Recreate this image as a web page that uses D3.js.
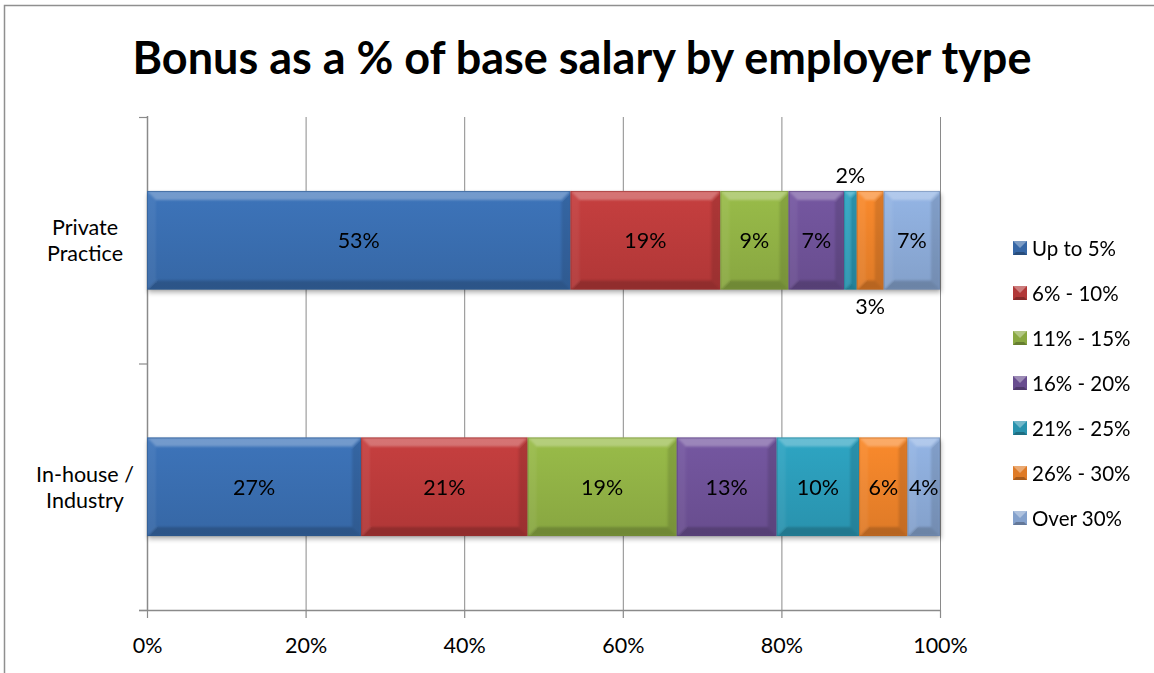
<!DOCTYPE html>
<html>
<head>
<meta charset="utf-8">
<script src="https://cdn.jsdelivr.net/npm/d3@7"></script>
<style>
  html, body { margin: 0; padding: 0; background: #fff; }
  svg { display: block; font-family: Lato, "Open Sans", sans-serif; }
</style>
</head>
<body>
<svg id="chart" width="1154" height="673"></svg>
<script>
// ---- data ----
const categories = ["Private Practice", "In-house / Industry"];
const categoryLines = [["Private", "Practice"], ["In-house /", "Industry"]];
const seriesNames = ["Up to 5%", "6% - 10%", "11% - 15%", "16% - 20%", "21% - 25%", "26% - 30%", "Over 30%"];
const privatePractice = [0.534, 0.189, 0.086, 0.070, 0.016, 0.034, 0.071];
const inHouseIndustry = [0.270, 0.210, 0.188, 0.126, 0.104, 0.061, 0.041];
const xTicks = [0, 0.2, 0.4, 0.6, 0.8, 1.0];
const titleText = "Bonus as a % of base salary by employer type";
const colors = ["#3A6FB2", "#BE3C3C", "#93B446", "#70539A", "#2C9EBB", "#F0842A", "#8EADDB"];

const values = [privatePractice, inHouseIndustry];

const svg = d3.select("#chart");
const W = 1154, H = 673;

// frame
svg.append("path").attr("d", `M4.5,${H} L4.5,5.5 L${W},5.5`)
  .attr("fill", "none").attr("stroke", "#8f8f8f").attr("stroke-width", 1.5);

// title
const title = svg.append("text").attr("x", 582).attr("y", 74)
  .attr("text-anchor", "middle").attr("font-weight", 700).attr("font-size", 40)
  .attr("fill", "#000").text(titleText);
{
  const len = title.node().getComputedTextLength();
  title.attr("font-size", 40 * 899 / len);
}

const x = d3.scaleLinear().domain([0, 1]).range([147, 940]);
const y = d3.scaleBand().domain(categories).range([117, 610]).paddingInner(0.6).paddingOuter(0.3);
const yEdges = d3.scaleLinear().domain([0, categories.length]).range([117, 610]);

const defs = svg.append("defs");
const f = defs.append("filter").attr("id", "shadow").attr("x", "-5%").attr("y", "-20%").attr("width", "110%").attr("height", "150%");
f.append("feGaussianBlur").attr("stdDeviation", 2.5);
const fb = defs.append("filter").attr("id", "soft").attr("x", "-10%").attr("y", "-10%").attr("width", "120%").attr("height", "120%");
fb.append("feGaussianBlur").attr("stdDeviation", 0.8);

colors.forEach((c, i) => {
  const g = defs.append("linearGradient").attr("id", "grad" + i).attr("x1", 0).attr("y1", 0).attr("x2", 0).attr("y2", 1);
  g.append("stop").attr("offset", "0%").attr("stop-color", d3.color(c).brighter(0.12));
  g.append("stop").attr("offset", "100%").attr("stop-color", d3.color(c).darker(0.22));
});

// gridlines
const grid = svg.append("g");
grid.selectAll("line").data(xTicks.slice(1)).join("line")
  .attr("x1", d => x(d) + 0.5).attr("x2", d => x(d) + 0.5)
  .attr("y1", 117).attr("y2", 610)
  .attr("stroke", "#8a8a8a").attr("stroke-width", 1);

// bottom axis
const xAxis = d3.axisBottom(x).tickValues(xTicks).tickFormat(d3.format(".0%")).tickSize(8).tickPadding(20);
const gx = svg.append("g").attr("transform", "translate(0,610)").call(xAxis);
gx.select(".domain").remove();
gx.selectAll(".tick line").attr("stroke", "#8a8a8a").attr("stroke-width", 1.2);
gx.selectAll(".tick text").attr("font-size", 21.5).attr("fill", "#000").attr("font-family", "Lato, sans-serif");
svg.append("line").attr("x1", 139).attr("x2", 941).attr("y1", 610.5).attr("y2", 610.5)
  .attr("stroke", "#8a8a8a").attr("stroke-width", 1.5);

// left axis
svg.append("line").attr("x1", 147.5).attr("x2", 147.5).attr("y1", 116).attr("y2", 611)
  .attr("stroke", "#8a8a8a").attr("stroke-width", 1.5);
svg.append("g").selectAll("line").data(d3.range(categories.length + 1)).join("line")
  .attr("x1", 139).attr("x2", 147).attr("y1", d => yEdges(d) + 0.5).attr("y2", d => yEdges(d) + 0.5)
  .attr("stroke", "#8a8a8a").attr("stroke-width", 1.2);

// category labels
categories.forEach((cat, ci) => {
  const cy = y(cat) + y.bandwidth() / 2;
  const t = svg.append("text").attr("text-anchor", "middle").attr("font-size", 21.5).attr("fill", "#000");
  categoryLines[ci].forEach((ln, li) => {
    t.append("tspan").attr("x", 85).attr("y", cy - 5 + li * 26).text(ln);
  });
});

// bars
const fmt = d3.format(".0%");
const bars = svg.append("g");
const labelsG = svg.append("g");
categories.forEach((cat, ci) => {
  const vals = values[ci];
  const by = y(cat), bh = y.bandwidth();
  let cum = 0;
  const segs = vals.map((v, i) => { const s = { v, i, x0: x(cum), x1: x(cum + v) }; cum += v; return s; });
  // shadow
  bars.append("rect").attr("x", x(0) + 1).attr("y", by + 3).attr("width", x(cum) - x(0)).attr("height", bh)
    .attr("fill", "#000").attr("opacity", 0.3).attr("filter", "url(#shadow)");
  let outsideCount = 0;
  segs.forEach(s => {
    const w = s.x1 - s.x0;
    const g = bars.append("g");
    g.append("rect").attr("x", s.x0).attr("y", by).attr("width", w).attr("height", bh)
      .attr("fill", `url(#grad${s.i})`);
    const b = Math.min(9, w / 2);
    const x0 = s.x0, x1 = s.x1, y0 = by, y1 = by + bh;
    const bev = g.append("g").attr("filter", "url(#soft)");
    const poly = (pts, fill, op) => bev.append("polygon").attr("points", pts.map(p => p.join(",")).join(" ")).attr("fill", fill).attr("opacity", op);
    poly([[x0, y0], [x1, y0], [x1 - b, y0 + b], [x0 + b, y0 + b]], "#fff", 0.28);
    poly([[x0, y0], [x0 + b, y0 + b], [x0 + b, y1 - b], [x0, y1]], "#fff", 0.06);
    poly([[x1, y0], [x1, y1], [x1 - b, y1 - b], [x1 - b, y0 + b]], "#000", 0.12);
    poly([[x0, y1], [x0 + b, y1 - b], [x1 - b, y1 - b], [x1, y1]], "#000", 0.18);
    g.append("rect").attr("x", x0 + 0.5).attr("y", y0 + 0.5).attr("width", Math.max(0, w - 1)).attr("height", bh - 1)
      .attr("fill", "none").attr("stroke", d3.color(colors[s.i]).darker(0.9)).attr("stroke-opacity", 0.45).attr("stroke-width", 1);

    const label = labelsG.append("text").attr("text-anchor", "middle").attr("font-size", 21.5).attr("fill", "#000")
      .attr("x", (x0 + x1) / 2).text(fmt(s.v));
    if (w < 30) {
      if (outsideCount % 2 === 0) label.attr("y", y0 - 8);
      else label.attr("y", y1 + 24);
      outsideCount++;
    } else {
      label.attr("y", (y0 + y1) / 2 + 8);
    }
  });
});

// legend
const legend = svg.append("g");
const legendY = d3.scalePoint().domain(seriesNames).range([248, 518]);
seriesNames.forEach((name, i) => {
  const ly = legendY(name);
  const g = legend.append("g");
  const s = 14, lx = 1013, top = ly - 7;
  g.append("rect").attr("x", lx).attr("y", top).attr("width", s).attr("height", s).attr("fill", d3.color(colors[i]).darker(0.2));
  g.append("polygon").attr("points", `${lx},${top} ${lx + s},${top} ${lx + s / 2},${top + s / 2}`).attr("fill", "#fff").attr("opacity", 0.35);
  g.append("polygon").attr("points", `${lx},${top + s} ${lx + s},${top + s} ${lx + s - 3},${top + s - 3} ${lx + 3},${top + s - 3}`).attr("fill", "#000").attr("opacity", 0.25);
  g.append("text").attr("x", 1032).attr("y", ly + 7.5).attr("font-size", 20.5).attr("fill", "#000").text(name);
});
</script>
</body>
</html>
